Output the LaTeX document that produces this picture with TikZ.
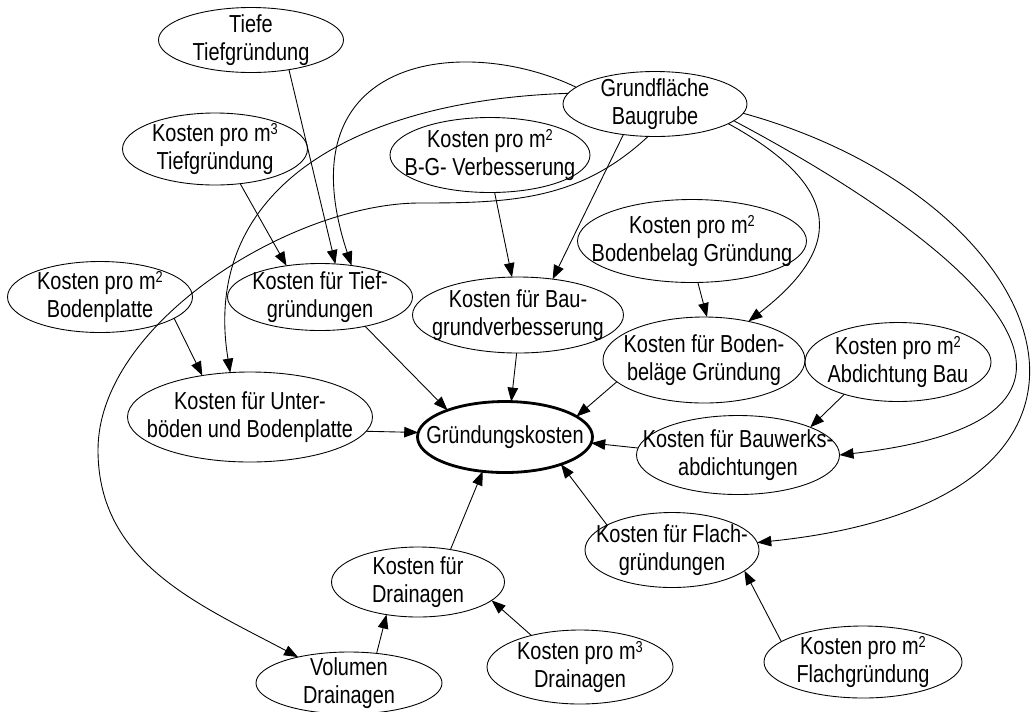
\documentclass[tikz,border=0pt]{standalone}
\usepackage{fontspec}
\setmainfont{Liberation Sans}[FakeStretch=0.81]
\usepackage{tikz}
\usetikzlibrary{arrows.meta, shapes.geometric}

% small raised exponent for m2 / m3
\newcommand{\hoch}[1]{\raisebox{4.3pt}{\fontsize{9}{9}\selectfont #1}}

\begin{document}
\begin{tikzpicture}[
  font=\fontsize{14}{15.9}\selectfont,
  >={Triangle[length=2.8mm, width=2.1mm]},
  blob/.style={draw, ellipse, line width=0.5pt, align=center,
               inner xsep=-3cm, inner ysep=-1cm, outer sep=0pt},
  main/.style={blob, line width=1.6pt},
  arr/.style={->, line width=0.5pt},
]
\useasboundingbox (0,0) rectangle (20.7,-14.22);

% ============ NODES ============

% top rows: inputs
\node[blob, minimum width=3.70cm, minimum height=1.30cm] (tiefe)     at (5.02,-0.80)  {Tiefe\\Tiefgründung};
\node[blob, minimum width=3.70cm, minimum height=1.44cm] (protief)   at (4.30,-2.98)  {Kosten pro m\hoch{3}\\Tiefgründung};
\node[blob, minimum width=3.68cm, minimum height=1.30cm] (grund)     at (13.10,-2.08) {Grundfläche\\Baugrube};
\node[blob, minimum width=4.00cm, minimum height=1.50cm] (bgverb)    at (9.80,-3.10)  {Kosten pro m\hoch{2}\\B-G- Verbesserung};
\node[blob, minimum width=4.58cm, minimum height=1.66cm] (probodbel) at (13.84,-4.82) {Kosten pro m\hoch{2}\\Bodenbelag Gründung};
\node[blob, minimum width=3.70cm, minimum height=1.42cm] (proplatte) at (2.00,-5.94)  {Kosten pro m\hoch{2}\\Bodenplatte};
\node[blob, minimum width=3.72cm, minimum height=1.58cm] (proabd)    at (17.96,-7.24) {Kosten pro m\hoch{2}\\Abdichtung Bau};

% cost groups
\node[blob, minimum width=3.70cm, minimum height=1.34cm] (tiefkost)  at (6.40,-5.94)  {Kosten für Tief-\\gründungen};
\node[blob, minimum width=4.22cm, minimum height=1.52cm] (baugrund)  at (10.36,-6.30) {Kosten für Bau-\\grundverbesserung};
\node[blob, minimum width=4.04cm, minimum height=1.72cm] (bodenbel)  at (14.08,-7.20) {Kosten für Boden-\\beläge Gründung};
\node[blob, minimum width=4.90cm, minimum height=1.80cm] (unterbod)  at (5.00,-8.34)  {Kosten für Unter-\\böden und Bodenplatte};
\node[blob, minimum width=4.06cm, minimum height=1.58cm] (bauwerks)  at (14.76,-9.10) {Kosten für Bauwerks-\\abdichtungen};
\node[blob, minimum width=3.48cm, minimum height=1.50cm] (flach)     at (13.44,-11.00) {Kosten für Flach-\\gründungen};
\node[blob, minimum width=3.46cm, minimum height=1.40cm] (drain)     at (8.36,-11.64) {Kosten für\\Drainagen};

% result
\node[main, minimum width=3.50cm, minimum height=1.42cm] (gruendung) at (10.10,-8.74) {Gründungskosten};

% bottom row
\node[blob, minimum width=3.72cm, minimum height=1.24cm] (volumen)   at (6.98,-13.66) {Volumen\\Drainagen};
\node[blob, minimum width=3.72cm, minimum height=1.48cm] (prodrain)  at (11.60,-13.34) {Kosten pro m\hoch{3}\\Drainagen};
\node[blob, minimum width=3.96cm, minimum height=1.44cm] (proflach)  at (17.26,-13.24) {Kosten pro m\hoch{2}\\Flachgründung};

% bends of the long Grundfläche -> Volumen curve
\coordinate (bendA) at (8.40,-4.06);
\coordinate (bendB) at (1.96,-9.00);

% ============ ARROWS ============

% inputs -> cost groups
\draw[arr] (tiefe.-38)      -- (tiefkost.65);
\draw[arr] (protief.-54)    -- (tiefkost.137);
\draw[arr] (proplatte.-16)  -- (unterbod.139);
\draw[arr] (bgverb.-83)     -- (baugrund.99);
\draw[arr] (probodbel.-82)  -- (bodenbel.86);
\draw[arr] (proabd.211)     -- (bauwerks.21);
\draw[arr] (prodrain.147)   -- (drain.-14);
\draw[arr] (proflach.166)   -- (flach.-16);
\draw[arr] (volumen.47)     -- (drain.226);

% Grundfläche feeds almost everything
\draw[arr] (grund.224) -- (baugrund.46);
\draw[arr] (grund.168) .. controls +(-2.20,1.06) and +(-1.40,4.24) .. (tiefkost.45);
\draw[arr] (grund.173) .. controls +(-4.30,-0.14) and +(-0.60,3.66) .. (unterbod.114);
\draw[arr] (grund.-15) .. controls +(2.40,-1.32) and +(1.84,1.42) .. (bodenbel.41);
\draw[arr] (grund.-12) .. controls +(5.20,-2.76) and +(6.30,0.72) .. (bauwerks.0);
\draw[arr] (grund.-6)  .. controls +(6.26,-1.72) and +(8.40,0.86) .. (flach.5);
\draw[arr] (grund.258) to[out=223, in=0] (bendA)
                       to[out=180, in=90, looseness=0.8] (bendB)
                       to[out=-90, in=152] (volumen.153);

% cost groups -> Gründungskosten
\draw[arr] (tiefkost.-33)  -- (gruendung.155);
\draw[arr] (baugrund.-92)  -- (gruendung.80);
\draw[arr] (bodenbel.194)  -- (gruendung.16);
\draw[arr] (unterbod.-7)   -- (gruendung.177);
\draw[arr] (bauwerks.176)  -- (gruendung.-4);
\draw[arr] (flach.159)     -- (gruendung.-26);
\draw[arr] (drain.45)      -- (gruendung.237);

\end{tikzpicture}
\end{document}
